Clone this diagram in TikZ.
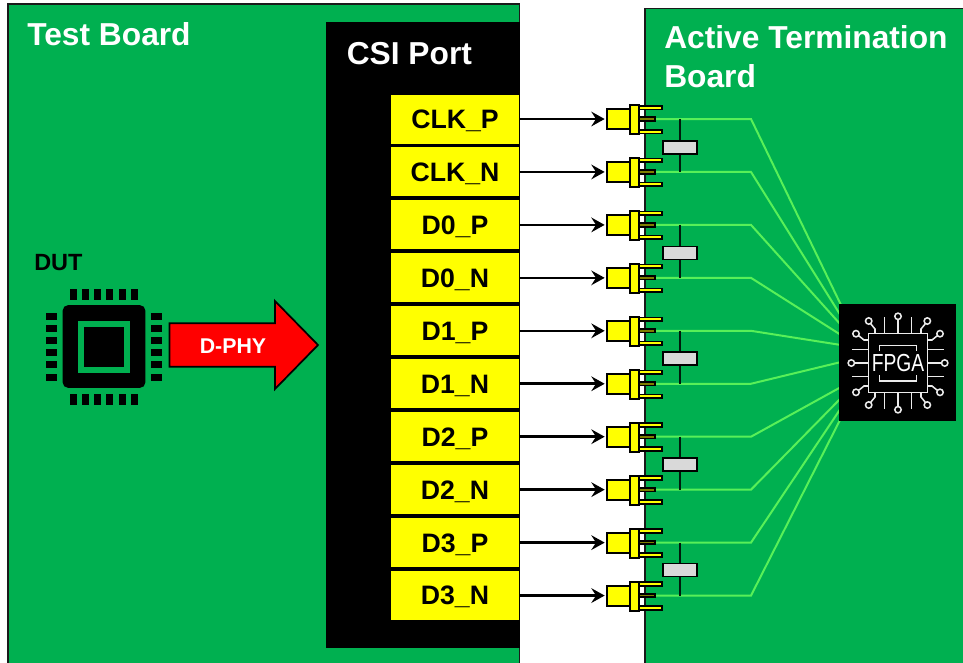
\documentclass[tikz,border=0pt]{standalone}
\usepackage{fontspec}
\setmainfont{Liberation Sans}
\usetikzlibrary{arrows.meta}
\definecolor{boardgreen}{RGB}{0,176,80}
\definecolor{tracegreen}{RGB}{88,240,88}
\definecolor{pinolive}{RGB}{127,127,0}
\definecolor{capgray}{RGB}{217,217,217}
\definecolor{icongray}{RGB}{235,235,235}
\definecolor{boardline}{RGB}{26,26,26}
\definecolor{portyellow}{RGB}{255,255,0}
\definecolor{arrowred}{RGB}{255,0,0}
\tikzset{
  x=0.75pt,y=-0.75pt,
  board/.style={fill=boardgreen,draw=boardline,line width=1.3pt},
  heading/.style={text=white,inner sep=0pt,font=\fontsize{23.8pt}{28pt}\selectfont\bfseries,anchor=base west},
  portbox/.style={fill=portyellow,inner sep=0pt,minimum width=96pt,minimum height=36.75pt,text height=14.1pt,text depth=0pt,font=\fontsize{20pt}{24pt}\selectfont\bfseries},
  body/.style={fill=portyellow,draw=black,line width=1.5pt,inner sep=0pt,minimum width=17.25pt,minimum height=15pt},
  flange/.style={fill=portyellow,draw=black,line width=1.5pt,inner sep=0pt,minimum width=6.75pt,minimum height=21.75pt},
  pinout/.style={fill=portyellow,draw=black,line width=1.3pt,inner sep=0pt,minimum width=17.25pt,minimum height=2.8pt},
  pinmid/.style={fill=pinolive,draw=black,line width=1.3pt,inner sep=0pt,minimum width=12pt,minimum height=2.6pt},
  capbox/.style={fill=capgray,draw=black,line width=1.2pt,inner sep=0pt,minimum width=25.5pt,minimum height=9.75pt},
  trace/.style={draw=tracegreen,line width=1.5pt},
  caplead/.style={draw=black!85!boardgreen,line width=1.2pt},
  link/.style={draw=black,line width=1.9pt,-{Stealth[length=10pt,width=11pt,inset=3.5pt]},shorten >=1pt},
  chipdot/.style={fill=black,inner sep=0pt},
  icon/.style={draw=icongray,line width=1.15pt},
}
\begin{document}
\begin{tikzpicture}
\clip (0,0) rectangle (963,662);
\fill[white] (0,0) rectangle (963,662);
% boards
\path[board] (8,4) rectangle (519.5,680);
\path[board] (645,8.5) rectangle (990,680);
\node[heading] (testlabel) at (27,45) {Test Board};
\node[heading] (activelabel) at (664,48) {Active Termination};
\node[heading] (boardlabel) at (664,87) {Board};
% CSI block
\fill[black] (326,22) rectangle (519.5,648);
\node[heading] (csilabel) at (346.5,64) {CSI Port};
% ports
\foreach \i/\t in {1/CLK\_P,2/CLK\_N,3/D0\_P,4/D0\_N,5/D1\_P,6/D1\_N,7/D2\_P,8/D2\_N,9/D3\_P,10/D3\_N}{
  \pgfmathsetmacro\c{119+52.95*(\i-1)}
  \node[portbox] (port\i) at (455,\c) {\t};
}
% FPGA anchor points of the traces
\coordinate (bend) at (751,0);
\foreach \i/\e in {1/305,2/316,3/325,4/335,5/345,6/362,7/387,8/398,9/408,10/418}{
  \coordinate (end\i) at (841,\e);
}
% traces start at the centre pins
\foreach \i in {1,...,10}{
  \pgfmathsetmacro\c{119+52.95*(\i-1)}
  \node[pinmid] (mid\i) at (647,\c) {};
  \draw[trace] (mid\i.east) -- (mid\i.east -| bend) -- (end\i);
}
% capacitors
\foreach \i/\a/\b in {1/1/2,2/3/4,3/5/6,4/7/8,5/9/10}{
  \pgfmathsetmacro\cy{147.5+105.6*(\i-1)}
  \node[capbox] (cap\i) at (680,\cy) {};
  \draw[caplead] (cap\i.north |- mid\a) -- (cap\i.north);
  \draw[caplead] (cap\i.south) -- (cap\i.south |- mid\b);
}
\foreach \i in {1,...,10}{
  \pgfmathsetmacro\c{119+52.95*(\i-1)}
  \node[pinout] (pa\i) at (650.5,\c-11.5) {};
  \node[pinout] (pb\i) at (650.5,\c+12.5) {};
  \node[pinmid] (midtop\i) at (647,\c) {};
  \node[flange] (fl\i) at (634.5,\c+0.5) {};
  \node[body] (sma\i) at (618.5,\c) {};
  \draw[link] (port\i.east) -- (sma\i.west);
}
% FPGA
\node[fill=black,inner sep=0pt,minimum width=87.75pt,minimum height=87.75pt] (fpga) at (897.5,362.5) {};
\begin{scope}[shift={(898,363)}]
  \foreach \r in {0,90,180,270}{
    \begin{scope}[rotate=\r]
      \draw[icon] (-13.3,-29.5) -- (-13.3,-46);
      \draw[icon] (13.3,-29.5) -- (13.3,-46);
      \draw[icon] (0,-29.5) -- (0,-43.5);
      \draw[icon] (0,-46.7) circle[radius=2.4pt];
      \draw[icon] (-23,-29.5) -- (-23,-34) -- (-27.5,-39.5);
      \draw[icon] (-29.3,-42) circle[radius=2.4pt];
      \draw[icon] (23,-29.5) -- (23,-34) -- (27.5,-39.5);
      \draw[icon] (29.3,-42) circle[radius=2.4pt];
    \end{scope}
  }
  \draw[icon,line width=1.4pt] (-29.5,-29.5) rectangle (29.5,29.5);
  \draw[icon] (-18.3,-12) -- (-18.3,-17.5) -- (18.3,-17.5) -- (18.3,-12);
  \draw[icon] (-18.3,12) -- (-18.3,18) -- (18.3,18) -- (18.3,12);
\end{scope}
\node[text=white,inner sep=0pt,transform shape,xscale=0.78,font=\fontsize{18.5pt}{20pt}\selectfont] (fpgatext) at (898,363) {FPGA};
% DUT
\node[inner sep=0pt,anchor=base west,font=\fontsize{17.6pt}{20pt}\selectfont\bfseries] (dutlabel) at (34,270) {DUT};
\node[fill=black,rounded corners=4pt,inner sep=0pt,minimum width=62pt,minimum height=62pt] (dut) at (104,346.5) {};
\node[fill=black,draw=boardgreen,line width=4.5pt,inner sep=0pt,minimum width=34.5pt,minimum height=34.5pt] (die) at (104,346.5) {};
\foreach \p in {73.3,85.3,97.3,109.3,122.3,134.3}{
  \node[chipdot,minimum width=5pt,minimum height=8.25pt] at (\p,294.5) {};
  \node[chipdot,minimum width=5pt,minimum height=8.25pt] at (\p,399.5) {};
}
\foreach \p in {316.5,328.5,340.5,352.5,364.5,377.5}{
  \node[chipdot,minimum width=8.25pt,minimum height=5.2pt] at (51.5,\p) {};
  \node[chipdot,minimum width=8.25pt,minimum height=5.2pt] at (156.5,\p) {};
}
% D-PHY arrow
\draw[fill=arrowred,draw=black,line width=1.3pt,line join=miter]
  (169.5,323.3) -- (275,323.3) -- (275,301) -- (318,345) -- (275,389) -- (275,366.7) -- (169.5,366.7) -- cycle;
\node[text=white,inner sep=0pt,font=\fontsize{16pt}{19pt}\selectfont\bfseries] (dphy) at (233,346) {D-PHY};
\end{tikzpicture}
\end{document}
